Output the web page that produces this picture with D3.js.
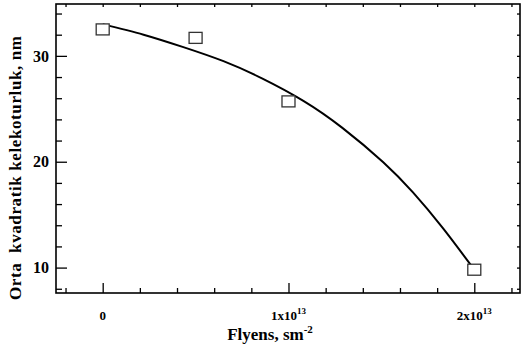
<!DOCTYPE html>
<html>
<head>
<meta charset="utf-8">
<script src="https://cdn.jsdelivr.net/npm/d3@7"></script>
<style>
  html, body { margin: 0; padding: 0; background: #fff; }
  svg { display: block; }
  text { font-family: "Liberation Serif", "Times New Roman", "DejaVu Serif", serif; font-weight: bold; }
</style>
</head>
<body>
<svg id="chart" width="523" height="350"></svg>
<script>
// ---- data ----
const pointX = [0, 5e12, 1e13, 2e13];
const pointY = [32.5, 31.7, 25.7, 9.8];
const curveX = [0, 2.2e12, 4.3e12, 6.5e12, 8.6e12, 1.08e13, 1.29e13, 1.51e13, 1.67e13, 1.83e13, 2.0e13];
const curveY = [33.0, 32.0, 30.85, 29.5, 27.85, 25.75, 23.2, 19.95, 17.1, 13.75, 9.8];
const xMajorTicks = [0, 1e13, 2e13];
const xTickMantissa = ["0", "1x10", "2x10"];
const xTickExponent = ["", "13", "13"];
const xMinorTicks = [-2e12, 2e12, 4e12, 6e12, 8e12, 1.2e13, 1.4e13, 1.6e13, 1.8e13, 2.2e13];
const yMajorTicks = [10, 20, 30];
const yMinorTicks = [8, 12, 14, 16, 18, 22, 24, 26, 28, 32, 34];
const xTitle = "Flyens, sm";
const xTitleExp = "-2";
const yTitle = "Orta  kvadratik kelekoturluk, nm";

// ---- layout ----
const FONT = "Liberation Serif, Times New Roman, DejaVu Serif, serif";
const L = 56, R = 520, T = 4, B = 293;
const svg = d3.select("#chart");
const x = d3.scaleLinear().domain([-2.513e12, 2.246e13]).range([L, R]);
const y = d3.scaleLinear().domain([7.6, 34.9]).range([B, T]);

// ticks (all inward)
function addAxis(axisGen, tr) {
  const g = svg.append("g").attr("transform", tr).call(axisGen);
  g.select(".domain").remove();
  g.selectAll(".tick line").attr("stroke", "#000").attr("stroke-width", 1.3);
  g.selectAll(".tick text").remove();
  return g;
}
const allX = xMajorTicks.concat(xMinorTicks);
const allY = yMajorTicks.concat(yMinorTicks);
addAxis(d3.axisBottom(x).tickValues(xMajorTicks).tickSize(-10), `translate(0,${B})`);
addAxis(d3.axisBottom(x).tickValues(xMinorTicks).tickSize(-5), `translate(0,${B})`);
addAxis(d3.axisTop(x).tickValues(allX).tickSize(-3), `translate(0,${T})`);
addAxis(d3.axisLeft(y).tickValues(yMajorTicks).tickSize(-11), `translate(${L},0)`);
addAxis(d3.axisLeft(y).tickValues(yMinorTicks).tickSize(-6), `translate(${L},0)`);
addAxis(d3.axisRight(y).tickValues(allY).tickSize(-3), `translate(${R},0)`);

// frame
svg.append("rect").attr("x", L).attr("y", T).attr("width", R - L).attr("height", B - T)
  .attr("fill", "none").attr("stroke", "#000").attr("stroke-width", 1.6);

// tick labels
svg.append("g").selectAll("text").data(yMajorTicks).join("text")
  .attr("font-family", FONT).attr("font-weight", "bold")
  .attr("x", L - 7).attr("y", d => y(d)).attr("dy", "0.36em")
  .attr("text-anchor", "end").attr("font-size", 16).attr("fill", "#000")
  .text(d => d);

const xl = svg.append("g").selectAll("text").data(xMajorTicks).join("text")
  .attr("font-family", FONT).attr("font-weight", "bold")
  .attr("x", d => x(d)).attr("y", 320)
  .attr("text-anchor", "middle").attr("font-size", 13).attr("fill", "#000");
xl.append("tspan").text((d, i) => xTickMantissa[i]);
xl.append("tspan").attr("dy", -6).attr("font-size", 9).text((d, i) => xTickExponent[i]);

// titles
const xt = svg.append("text").attr("x", 270).attr("y", 340).attr("text-anchor", "middle")
  .attr("font-family", FONT).attr("font-weight", "bold")
  .attr("font-size", 17).attr("fill", "#000");
xt.append("tspan").text(xTitle);
xt.append("tspan").attr("dy", -7).attr("font-size", 11).text(xTitleExp);

svg.append("text").attr("transform", "translate(21,168) rotate(-90)")
  .attr("font-family", FONT).attr("font-weight", "bold")
  .attr("text-anchor", "middle").attr("font-size", 17).attr("fill", "#000")
  .attr("xml:space", "preserve").style("white-space", "pre")
  .attr("textLength", 264).attr("lengthAdjust", "spacing")
  .text(yTitle);

// curve
const line = d3.line().x(d => x(d[0])).y(d => y(d[1])).curve(d3.curveNatural);
svg.append("path").datum(d3.zip(curveX, curveY)).attr("d", line)
  .attr("fill", "none").attr("stroke", "#000").attr("stroke-width", 2);

// points
svg.append("g").selectAll("rect").data(d3.zip(pointX, pointY)).join("rect")
  .attr("x", d => x(d[0]) - 6.5).attr("y", d => y(d[1]) - 5.5)
  .attr("width", 13).attr("height", 11)
  .attr("fill", "#fff").attr("stroke", "#333").attr("stroke-width", 1.3);
</script>
</body>
</html>
